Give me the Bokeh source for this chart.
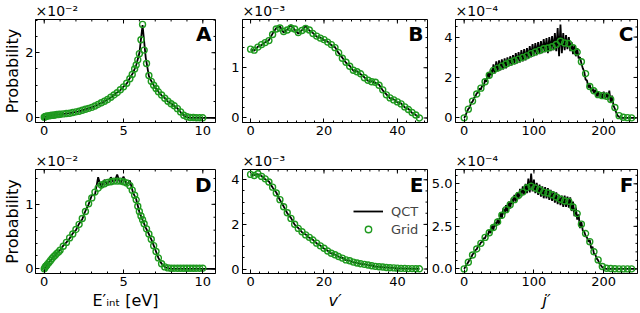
import numpy as np
from bokeh.plotting import figure
from bokeh.models import (Range1d, FixedTicker, Title, Label, Legend,
                          LegendItem, NumeralTickFormatter)
from bokeh.layouts import gridplot
from bokeh.embed import file_html
from bokeh.resources import INLINE

# ---------------- data (values in units of the offset shown above each panel) ----------
# E'_int grid (eV) used by the Grid model in panels A and D
e_grid = [0, 0.05, 0.1, 0.15, 0.2, 0.3, 0.4, 0.5, 0.6, 0.7, 0.8, 0.9, 1.0,
          1.2, 1.4, 1.6, 1.8, 2.0, 2.2, 2.4, 2.6, 2.8, 3.0, 3.2, 3.4, 3.6, 3.8, 4.0,
          4.2, 4.4, 4.6, 4.8, 5.0, 5.2, 5.4,
          5.55, 5.7, 5.8, 5.9, 6.0, 6.1, 6.2, 6.3,
          6.45, 6.6, 6.75, 6.9, 7.05, 7.2,
          7.4, 7.6, 7.8, 8.0, 8.2, 8.4, 8.6, 8.8, 9.0, 9.2, 9.4, 9.6, 9.8, 10.0]
A_grid = [0.02, 0.03, 0.04, 0.05, 0.05, 0.06, 0.07, 0.08, 0.08, 0.09, 0.10, 0.10, 0.11,
          0.12, 0.13, 0.14, 0.16, 0.18, 0.20, 0.23, 0.26, 0.29, 0.32, 0.36, 0.41, 0.46,
          0.51, 0.56, 0.63, 0.70, 0.77, 0.86, 0.95, 1.06, 1.20,
          1.33, 1.50, 1.62, 1.78, 1.97, 2.40, 2.87, 2.08,
          1.67, 1.30, 1.12, 1.00, 0.90, 0.80,
          0.70, 0.60, 0.51, 0.43, 0.37, 0.28, 0.18, 0.08, 0.03, 0.01, 0.01, 0.0, 0.0, 0.0]
D_grid = [0.00, 0.02, 0.04, 0.05, 0.07, 0.10, 0.13, 0.16, 0.19, 0.21, 0.24, 0.26, 0.29,
          0.35, 0.41, 0.48, 0.54, 0.61, 0.69, 0.78, 0.89, 1.01, 1.10, 1.19, 1.25, 1.30,
          1.32, 1.34, 1.35, 1.36, 1.36, 1.36, 1.35, 1.33, 1.29,
          1.22, 1.14, 1.07, 0.97, 0.89, 0.82, 0.76, 0.70,
          0.62, 0.54, 0.46, 0.36, 0.27, 0.17,
          0.08, 0.03, 0.015, 0.01, 0.01, 0.01, 0.01, 0.01, 0.01, 0.01, 0.01, 0.01, 0.01, 0.01]

# QCT histograms in E'_int (bins of 0.2 eV, 0 .. 10.8 eV)
e_qct = np.round(np.arange(0, 10.81, 0.2), 2)
A_qct = [0.02, 0.05, 0.07, 0.08, 0.10, 0.11, 0.12, 0.13, 0.14, 0.16, 0.18, 0.20, 0.23,
         0.26, 0.29, 0.32, 0.36, 0.41, 0.46, 0.50, 0.57, 0.62, 0.70, 0.78, 0.85, 0.96,
         1.05, 1.22, 1.38, 1.62, 1.98, 2.85, 1.85, 1.28, 1.08, 0.93, 0.80, 0.69, 0.61,
         0.50, 0.44, 0.36, 0.29, 0.17, 0.07, 0.02,
         0.0, 0.0, 0.0, 0.0, 0.0, 0.0, 0.0, 0.0, 0.0]
D_qct = [0.00, 0.07, 0.13, 0.19, 0.24, 0.29, 0.36, 0.41, 0.47, 0.55, 0.60, 0.70, 0.77,
         0.90, 1.00, 1.14, 1.15, 1.42, 1.25, 1.38, 1.30, 1.42, 1.33, 1.46, 1.32, 1.43,
         1.30, 1.37, 1.18, 1.08, 0.88, 0.76, 0.64, 0.54, 0.43, 0.30, 0.17, 0.08, 0.03,
         0.01, 0.0, 0.0, 0.0, 0.0, 0.0, 0.0, 0.0, 0.0, 0.0, 0.0, 0.0, 0.0, 0.0, 0.0, 0.0]

# vibrational quantum number v'
v_vals = list(range(0, 47))
B_grid = [1.37, 1.35, 1.41, 1.46, 1.50, 1.54, 1.66, 1.77, 1.79, 1.72,
          1.75, 1.79, 1.77, 1.70, 1.74, 1.78, 1.75, 1.68, 1.63, 1.59,
          1.56, 1.51, 1.46, 1.40, 1.30, 1.19, 1.11, 1.03, 0.95, 0.92,
          0.88, 0.80, 0.75, 0.72, 0.71, 0.65, 0.56, 0.46, 0.40, 0.36,
          0.32, 0.28, 0.22, 0.17, 0.11, 0.06, 0.00]
B_qct = [1.36, 1.34, 1.42, 1.45, 1.51, 1.55, 1.68, 1.79, 1.82, 1.70,
         1.76, 1.85, 1.76, 1.68, 1.75, 1.83, 1.74, 1.69, 1.62, 1.60,
         1.55, 1.52, 1.45, 1.41, 1.29, 1.20, 1.10, 1.04, 0.94, 0.93,
         0.87, 0.81, 0.74, 0.73, 0.70, 0.66, 0.55, 0.47, 0.39, 0.37,
         0.31, 0.29, 0.21, 0.18, 0.10, 0.06, 0.01]
E_grid = [4.24, 4.19, 4.27, 4.15, 4.04, 3.90, 3.67, 3.41, 3.11, 2.79,
          2.52, 2.27, 2.01, 1.82, 1.67, 1.53, 1.42, 1.30, 1.16, 1.04,
          0.93, 0.81, 0.71, 0.64, 0.56, 0.49, 0.41, 0.37, 0.31, 0.27,
          0.24, 0.21, 0.18, 0.15, 0.12, 0.10, 0.09, 0.07, 0.06, 0.05,
          0.04, 0.03, 0.03, 0.02, 0.02, 0.01, 0.01]
E_qct = [4.22, 4.21, 4.25, 4.17, 4.02, 3.92, 3.65, 3.43, 3.09, 2.81,
         2.50, 2.29, 1.99, 1.84, 1.65, 1.55, 1.40, 1.31, 1.15, 1.05,
         0.92, 0.82, 0.70, 0.65, 0.55, 0.50, 0.40, 0.38, 0.30, 0.28,
         0.23, 0.22, 0.17, 0.16, 0.11, 0.10, 0.08, 0.07, 0.05, 0.05,
         0.03, 0.03, 0.02, 0.02, 0.01, 0.01, 0.01]

# rotational quantum number j'
j_grid = list(range(0, 241, 6))
C_grid = [0.00, 0.43, 0.83, 1.18, 1.47, 1.79, 2.11, 2.35, 2.46, 2.56, 2.67, 2.75, 2.83,
          2.91, 2.99, 3.07, 3.18, 3.26, 3.34, 3.42, 3.46, 3.52, 3.63, 3.79, 3.71, 3.68,
          3.47, 3.26, 2.78, 2.19, 1.55, 1.34, 1.15, 1.10, 1.07, 0.91, 0.51, 0.11, 0.03,
          0.01, 0.00]
F_grid = [0.00, 0.39, 0.82, 1.17, 1.50, 1.85, 2.12, 2.43, 2.76, 3.15, 3.48, 3.77, 4.07,
          4.32, 4.51, 4.77, 4.86, 4.75, 4.65, 4.51, 4.46, 4.36, 4.22, 4.09, 3.99, 3.97,
          3.64, 3.25, 2.63, 2.08, 1.60, 1.01, 0.53, 0.14, 0.04, 0.02, 0.01, 0.0, 0.0,
          0.0, 0.0]
j_qct = list(range(0, 247, 2))
C_qct = [0.00, 0.12, 0.30, 0.45, 0.52, 0.75, 0.80, 0.98, 1.05, 1.22, 1.25, 1.45, 1.40,
         1.62, 1.55, 1.90, 1.78, 2.25, 1.95, 2.40, 2.10, 2.65, 2.20, 2.80, 2.30, 2.85,
         2.35, 2.90, 2.40, 2.95, 2.45, 3.00, 2.55, 3.05, 2.60, 3.10, 2.65, 3.20, 2.70,
         3.25, 2.75, 3.35, 2.80, 3.40, 2.85, 3.45, 2.95, 3.55, 3.00, 3.65, 3.05, 3.70,
         3.10, 3.75, 3.15, 3.80, 3.20, 3.90, 3.25, 3.95, 3.20, 4.00, 3.30, 4.05, 3.35,
         4.20, 3.30, 4.45, 3.05, 4.62, 3.20, 4.20, 3.35, 4.10, 3.40, 4.00, 3.30, 3.75,
         3.15, 3.60, 3.05, 3.45, 2.95, 3.00, 2.70, 2.45, 2.30, 1.90, 1.85, 1.50, 1.65,
         1.30, 1.50, 1.20, 1.40, 1.05, 1.30, 1.00, 1.25, 0.95, 1.30, 0.95, 1.25, 0.90,
         1.35, 0.75, 1.10, 0.60, 0.45, 0.25, 0.10, 0.05, 0.02,
         0.0, 0.0, 0.0, 0.0, 0.0, 0.0, 0.0, 0.0, 0.0, 0.0, 0.0]
F_qct = [0.00, 0.15, 0.28, 0.40, 0.55, 0.65, 0.85, 0.92, 1.10, 1.15, 1.35, 1.40, 1.55,
         1.60, 1.80, 1.80, 2.05, 1.95, 2.30, 2.10, 2.55, 2.30, 2.75, 2.50, 2.95, 2.65,
         3.30, 2.95, 3.55, 3.20, 3.75, 3.35, 3.95, 3.55, 4.15, 3.80, 4.35, 3.95, 4.50,
         4.10, 4.70, 4.25, 4.85, 4.35, 5.00, 4.45, 5.30, 4.50, 5.60, 4.55, 5.25, 4.45,
         5.05, 4.35, 4.95, 4.25, 4.85, 4.15, 4.80, 4.15, 4.75, 4.05, 4.65, 4.00, 4.55,
         3.90, 4.50, 3.80, 4.35, 3.75, 4.30, 3.65, 4.30, 3.65, 4.25, 3.60, 4.20, 3.40,
         3.95, 3.10, 3.60, 2.90, 3.20, 2.40, 2.75, 2.25, 2.20, 1.95, 1.85, 1.60, 1.70,
         1.20, 1.30, 0.90, 0.85, 0.60, 0.50, 0.30, 0.20, 0.10, 0.05, 0.02,
         0.0, 0.0, 0.0, 0.0, 0.0, 0.0, 0.0, 0.0, 0.0, 0.0, 0.0, 0.0, 0.0, 0.0, 0.0,
         0.0, 0.0, 0.0, 0.0, 0.0, 0.0, 0.0]

panel_letters = ["A", "B", "C", "D", "E", "F"]
offset_texts = ["×10⁻²", "×10⁻³", "×10⁻⁴", "×10⁻²", "×10⁻³", "×10⁻⁴"]
x_labels = ["E′ᵢₙₜ [eV]", "v′", "j′"]
y_label = "Probability"
legend_labels = ["QCT", "Grid"]

# ---------------- styling / layout ----------------
FONT = "DejaVu Sans"
GREEN = "#1f9a1f"
COL_W = [216, 212, 210]
COL_LEFT = [31, 26, 26]
ROW_H = [150, 162]
ROW_TOP = [16, 19]
ROW_BOTTOM = [28, 39]


def minor_list(step, lo, hi):
    first = np.ceil(lo / step) * step
    return [round(float(m), 6) for m in np.arange(first, hi, step)]


def style_axis(ax, standoff=3):
    ax.major_tick_in = 4
    ax.major_tick_out = 0
    ax.minor_tick_in = 2
    ax.minor_tick_out = 0
    ax.axis_line_color = "black"
    ax.major_tick_line_color = "black"
    ax.minor_tick_line_color = "black"
    ax.major_label_text_font = FONT
    ax.major_label_text_color = "black"
    ax.major_label_text_font_size = "13px"
    ax.major_label_standoff = standoff
    ax.axis_label_text_color = "black"


def panel(col, row, xr, yr, xmaj, xstep, ymaj, ystep, yfmt=None):
    w, h = COL_W[col], ROW_H[row]
    p = figure(width=w, height=h, x_range=Range1d(*xr), y_range=Range1d(*yr),
               output_backend="svg", toolbar_location=None, tools="",
               min_border_left=COL_LEFT[col], min_border_right=1,
               min_border_top=ROW_TOP[row], min_border_bottom=ROW_BOTTOM[row])
    p.xgrid.visible = False
    p.ygrid.visible = False
    p.outline_line_color = "black"
    p.outline_line_alpha = 1.0
    p.background_fill_color = "white"
    p.border_fill_color = "white"
    xminor = minor_list(xstep, xr[0], xr[1])
    yminor = minor_list(ystep, yr[0], yr[1])
    bx = p.below[0]
    ly_ax = p.left[0]
    bx.ticker = FixedTicker(ticks=xmaj, minor_ticks=xminor)
    ly_ax.ticker = FixedTicker(ticks=ymaj, minor_ticks=yminor)
    style_axis(bx)
    style_axis(ly_ax, standoff=2 if col == 0 else 3)
    if yfmt is not None:
        ly_ax.formatter = NumeralTickFormatter(format=yfmt)
    # inward ticks on the top and right frame edges
    p.ray(x=xmaj, y=[yr[1]] * len(xmaj), length=4, length_units="screen",
          angle=-np.pi / 2, line_color="black", line_width=1)
    p.ray(x=xminor, y=[yr[1]] * len(xminor), length=2, length_units="screen",
          angle=-np.pi / 2, line_color="black", line_width=1)
    p.ray(x=[xr[1]] * len(ymaj), y=ymaj, length=4, length_units="screen",
          angle=np.pi, line_color="black", line_width=1)
    p.ray(x=[xr[1]] * len(yminor), y=yminor, length=2, length_units="screen",
          angle=np.pi, line_color="black", line_width=1)
    idx = row * 3 + col
    p.title = Title(text=offset_texts[idx], align="left", text_font=FONT,
                    text_font_size="14px", text_font_style="normal",
                    text_color="black", standoff=1, offset=0)
    fw = w - COL_LEFT[col] - 1
    fh = h - ROW_TOP[row] - ROW_BOTTOM[row]
    lx = xr[1] - (xr[1] - xr[0]) * 4.0 / fw
    lyv = yr[1] - (yr[1] - yr[0]) * 3.0 / fh
    p.add_layout(Label(x=lx, y=lyv, text=panel_letters[idx], text_align="right",
                       text_baseline="top", text_font=FONT, text_font_size="20px",
                       text_font_style="bold", text_color="black"))
    if col == 0:
        ly_ax.axis_label = y_label
        ly_ax.axis_label_text_font = FONT
        ly_ax.axis_label_text_font_size = "16px"
        ly_ax.axis_label_text_font_style = "normal"
        ly_ax.axis_label_standoff = 0
    if row == 1:
        bx.axis_label = x_labels[col]
        bx.axis_label_text_font = FONT
        bx.axis_label_text_font_size = "16px"
        bx.axis_label_text_font_style = "normal" if col == 0 else "italic"
        bx.axis_label_standoff = 2
    return p


def draw(p, xq, yq, xg, yg):
    lr = p.line(xq, yq, line_color="black", line_width=1.8)
    cr = p.scatter(xg, yg, marker="circle", size=6, line_color=GREEN,
                   line_width=1.4, fill_alpha=0)
    return lr, cr


E_RANGE = (-0.55, 10.8)
V_RANGE = (-2.2, 48.2)
J_RANGE = (-12.4, 248.4)

pA = panel(0, 0, E_RANGE, (-0.145, 3.02), [0, 5, 10], 1, [0, 2], 0.5)
draw(pA, e_qct, A_qct, e_grid, A_grid)
pB = panel(1, 0, V_RANGE, (-0.09, 1.96), [0, 20, 40], 2.5, [0, 1], 0.2)
draw(pB, v_vals, B_qct, v_vals, B_grid)
pC = panel(2, 0, J_RANGE, (-0.23, 4.87), [0, 100, 200], 12.5, [0, 2, 4], 0.5)
draw(pC, j_qct, C_qct, j_grid, C_grid)
pD = panel(0, 1, E_RANGE, (-0.072, 1.54), [0, 5, 10], 1, [0, 1], 0.2)
draw(pD, e_qct, D_qct, e_grid, D_grid)
pE = panel(1, 1, V_RANGE, (-0.2, 4.46), [0, 20, 40], 2.5, [0, 2, 4], 0.5)
lrE, crE = draw(pE, v_vals, E_qct, v_vals, E_grid)
pF = panel(2, 1, J_RANGE, (-0.27, 5.84), [0, 100, 200], 12.5, [0, 2.5, 5.0], 0.5,
           yfmt="0.0")
draw(pF, j_qct, F_qct, j_grid, F_grid)

legend = Legend(items=[LegendItem(label=legend_labels[0], renderers=[lrE]),
                       LegendItem(label=legend_labels[1], renderers=[crE])],
                location=(111, 36), border_line_alpha=0, background_fill_alpha=0,
                label_text_font=FONT, label_text_font_size="13px",
                glyph_width=30, glyph_height=16, label_standoff=8, spacing=2,
                padding=0, margin=0, label_height=16)
pE.add_layout(legend)

grid = gridplot([[pA, pB, pC], [pD, pE, pF]], toolbar_location=None)

open("out.html", "w").write(file_html(grid, INLINE))
